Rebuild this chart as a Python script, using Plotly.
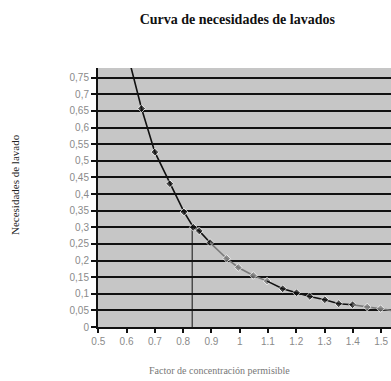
import plotly.graph_objects as go

# Data
seg1_x = [0.616, 0.653, 0.700, 0.753, 0.803, 0.836, 0.857, 0.895]
seg1_y = [0.780, 0.657, 0.526, 0.431, 0.346, 0.300, 0.289, 0.254]
seg2_x = [0.895, 0.954, 0.995, 1.048, 1.097]
seg2_y = [0.254, 0.206, 0.179, 0.155, 0.138]
seg3_x = [1.097, 1.152, 1.201, 1.248, 1.301, 1.350, 1.399]
seg3_y = [0.138, 0.115, 0.103, 0.092, 0.082, 0.070, 0.067]
seg4_x = [1.399, 1.451, 1.498, 1.535]
seg4_y = [0.067, 0.060, 0.055, 0.050]

ref_x = 0.832
ref_y = 0.30

y_ticks = [0, 0.05, 0.1, 0.15, 0.2, 0.25, 0.3, 0.35, 0.4, 0.45, 0.5, 0.55, 0.6, 0.65, 0.7, 0.75]
y_labels = ["0", "0,05", "0,1", "0,15", "0,2", "0,25", "0,3", "0,35", "0,4", "0,45", "0,5", "0,55", "0,6", "0,65", "0,7", "0,75"]
x_ticks = [0.5, 0.6, 0.7, 0.8, 0.9, 1.0, 1.1, 1.2, 1.3, 1.4, 1.5]
x_labels = ["0.5", "0.6", "0.7", "0.8", "0.9", "1", "1.1", "1.2", "1.3", "1.4", "1.5"]

BLACK = "#111111"
GRAY = "#7a7a7a"

fig = go.Figure()

# reference lines
fig.add_trace(go.Scatter(x=[ref_x, ref_x], y=[0, ref_y], mode="lines",
                         line=dict(color=BLACK, width=1), hoverinfo="skip"))
fig.add_trace(go.Scatter(x=[0.5, ref_x], y=[ref_y, ref_y], mode="lines",
                         line=dict(color=BLACK, width=1.5), hoverinfo="skip"))

def seg(xs, ys, color, first_marker=True, last_marker=True):
    sizes = [6] * len(xs)
    if not first_marker:
        sizes[0] = 0
    if not last_marker:
        sizes[-1] = 0
    fig.add_trace(go.Scatter(x=xs, y=ys, mode="lines+markers",
                             line=dict(color=color, width=1.6),
                             marker=dict(symbol="diamond", size=sizes, color=color)))

seg(seg1_x, seg1_y, BLACK, first_marker=False)
seg(seg2_x, seg2_y, GRAY, first_marker=False)
seg(seg3_x, seg3_y, BLACK, first_marker=False)
seg(seg4_x, seg4_y, GRAY, first_marker=False, last_marker=False)

fig.update_layout(
    width=391, height=381,
    margin=dict(l=98, r=0, t=68, b=54),
    paper_bgcolor="white",
    plot_bgcolor="#c6c6c6",
    showlegend=False,
    title=dict(text="<b>Curva de necesidades de lavados</b>", x=0.607, xanchor="center",
               y=0.95, yanchor="middle",
               font=dict(family="Liberation Serif", size=14, color="#111111")),
    annotations=[
        dict(text="Factor de concentración permisible", xref="paper", yref="paper",
             x=(219 - 98) / 293, y=-(370 - 327) / 259, xanchor="center", yanchor="middle",
             showarrow=False, font=dict(family="Liberation Serif", size=10, color="#777777")),
        dict(text="Necesidades de lavado", xref="paper", yref="paper",
             x=-(98 - 15) / 293, y=(327 - 185) / 259, xanchor="center", yanchor="middle",
             textangle=-90, showarrow=False,
             font=dict(family="Liberation Serif", size=11, color="#222222")),
    ],
)
fig.update_xaxes(
    range=[0.499, 1.535], tickvals=x_ticks, ticktext=x_labels,
    showgrid=False, zeroline=False,
    showline=True, linecolor=BLACK, linewidth=2,
    ticks="outside", ticklen=4, tickcolor=BLACK, tickwidth=1.5,
    tickfont=dict(family="Liberation Sans", size=10, color="#8a8a8a"),
)
fig.update_yaxes(
    range=[0, 0.779], tickvals=y_ticks, ticktext=y_labels,
    showgrid=True, gridcolor=BLACK, gridwidth=1.5, zeroline=False,
    showline=True, linecolor=BLACK, linewidth=2,
    ticks="outside", ticklen=5, tickcolor=BLACK, tickwidth=1.5,
    tickfont=dict(family="Liberation Sans", size=10, color="#8a8a8a"),
)

fig.write_html("out.html")
